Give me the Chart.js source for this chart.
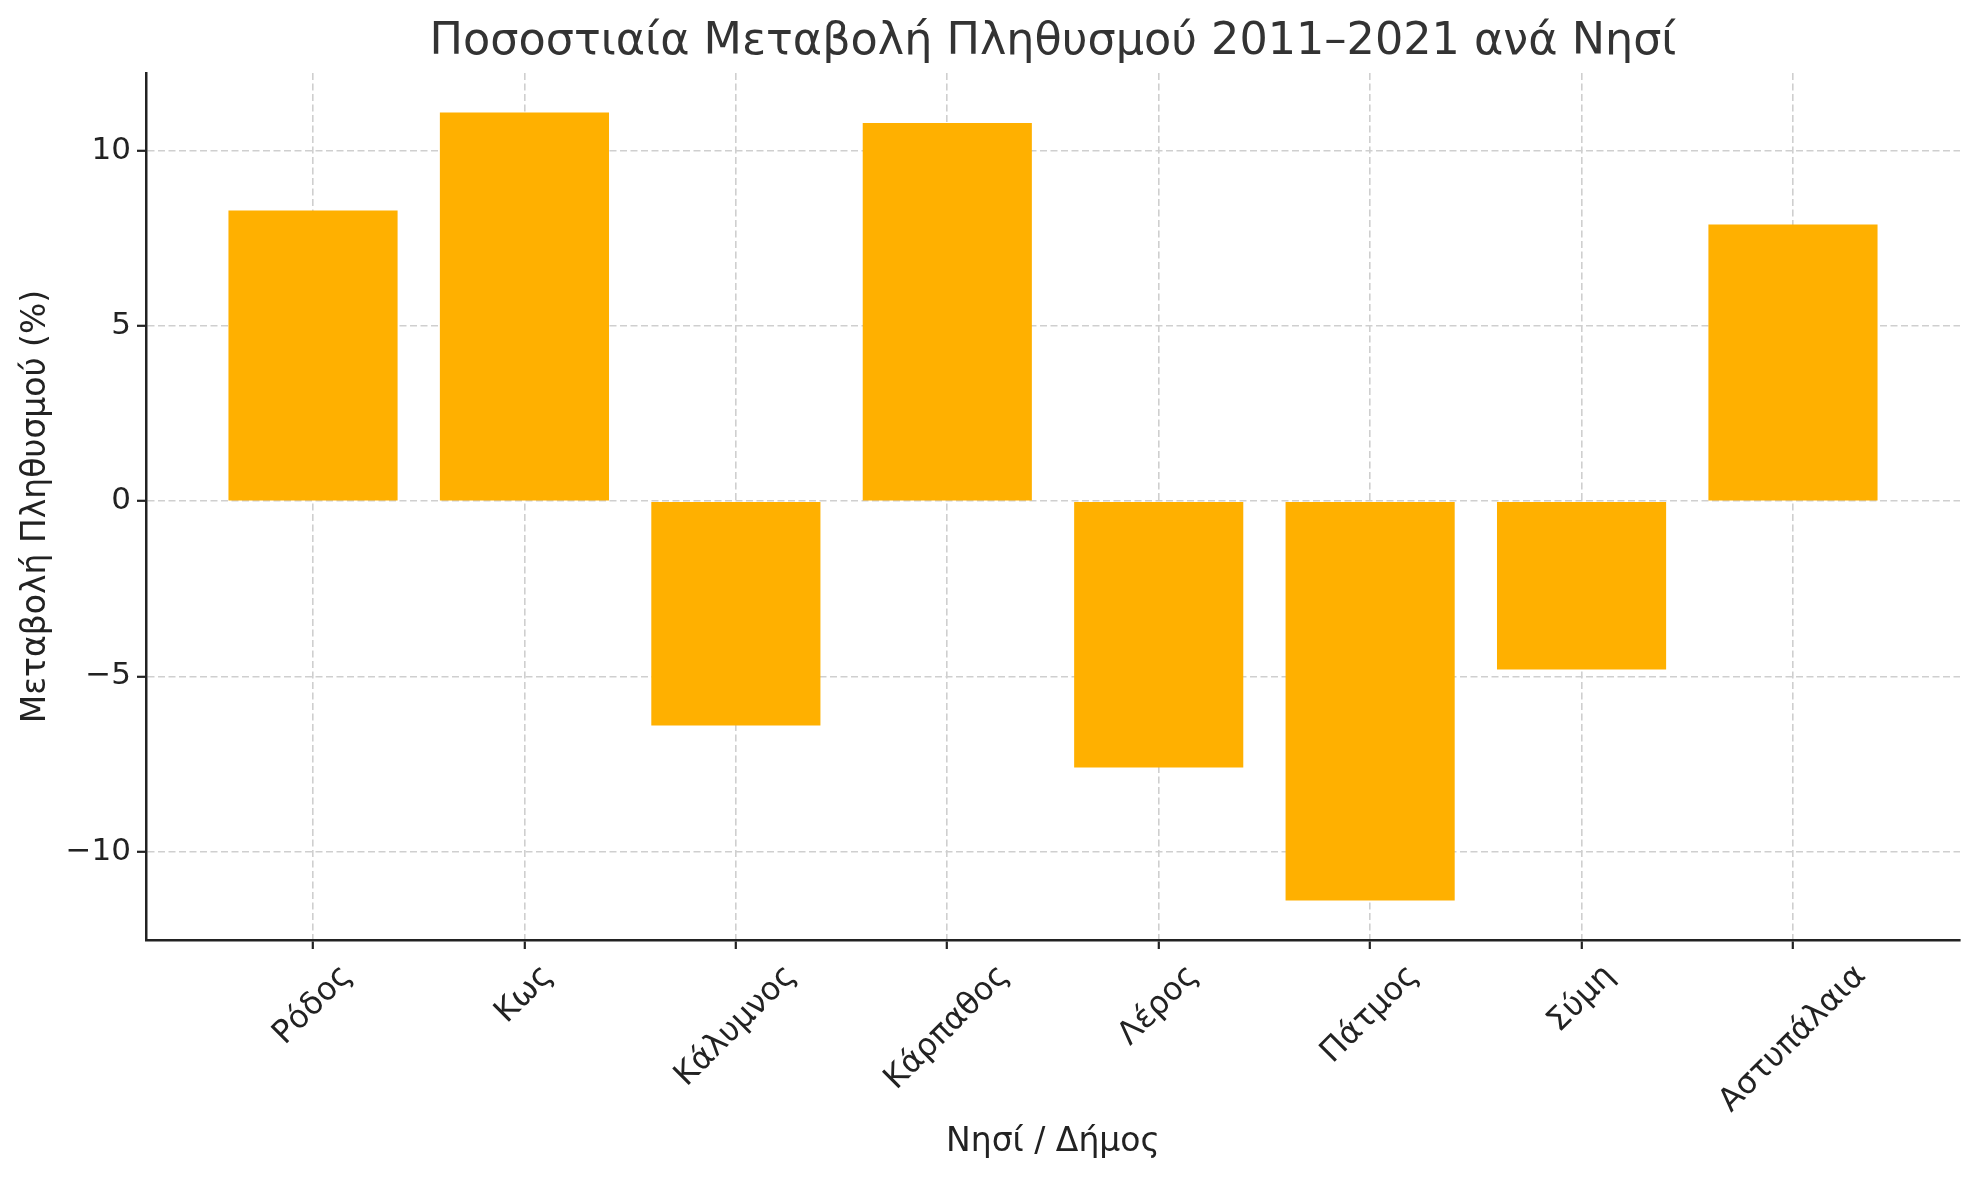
<!DOCTYPE html>
<html>
<head>
<meta charset="utf-8">
<script src="https://cdn.jsdelivr.net/npm/chart.js@4/dist/chart.umd.min.js"></script>
<style>
    body { margin: 0; background: #fff; }
    #wrap { width: 1979px; height: 1180px; }
</style>
</head>
<body>
<div id="wrap"><canvas id="popChart" width="1979" height="1180"></canvas></div>
<script>
const islands = ["Ρόδος", "Κως", "Κάλυμνος", "Κάρπαθος", "Λέρος", "Πάτμος", "Σύμη", "Αστυπάλαια"];
const changePct = [8.3, 11.1, -6.4, 10.8, -7.6, -11.4, -4.8, 7.9];
const yTicks = [-10, -5, 0, 5, 10];

const chartTitle = "Ποσοστιαία Μεταβολή Πληθυσμού 2011–2021 ανά Νησί";
const xTitle = "Νησί / Δήμος";
const yTitle = "Μεταβολή Πληθυσμού (%)";

const FONT = "'DejaVu Sans', sans-serif";

// title, axis titles and rotated category labels (centred under each tick)
const labelPlugin = {
    id: "labelPlugin",
    afterDraw(chart) {
        const ctx = chart.ctx;
        const xs = chart.scales.x;
        const area = chart.chartArea;
        const midX = (area.left + area.right) / 2;
        const s = Math.SQRT1_2;

        ctx.save();
        ctx.textAlign = "center";
        ctx.textBaseline = "middle";

        ctx.fillStyle = "#333";
        ctx.font = "44.5px " + FONT;
        ctx.fillText(chartTitle, midX, 42);

        ctx.fillStyle = "#222";
        ctx.font = "32px " + FONT;
        islands.forEach((name, i) => {
            const px = xs.getPixelForValue(i);
            const w = ctx.measureText(name).width;
            const h = 37;
            const boxH = (w + h) * s;
            const cy = area.bottom + 18 + boxH / 2;
            ctx.save();
            ctx.translate(px, cy);
            ctx.rotate(-Math.PI / 4);
            ctx.fillText(name, 0, 0);
            ctx.restore();
        });

        ctx.font = "33px " + FONT;
        ctx.fillText(xTitle, midX, 1142);

        ctx.save();
        ctx.translate(36, (area.top + area.bottom) / 2);
        ctx.rotate(-Math.PI / 2);
        ctx.fillText(yTitle, 0, 0);
        ctx.restore();
        ctx.restore();
    }
};

const gridOpts = {
    color: "#cfcfcf",
    lineWidth: 1.6,
    offset: false,
    drawTicks: true,
    tickLength: 9,
    tickColor: "#222",
    tickWidth: 2.2
};

const ctx = document.getElementById("popChart").getContext("2d");
const chart = new Chart(ctx, {
    type: "bar",
    data: {
        datasets: [{
            data: changePct.map((v, i) => ({ x: i, y: v })),
            backgroundColor: "#FFB000",
            borderWidth: 0,
            barPercentage: 0.8,
            categoryPercentage: 1.0
        }]
    },
    options: {
        responsive: false,
        animation: false,
        devicePixelRatio: 1,
        layout: { padding: { left: 0, right: 19, top: 73, bottom: 0 } },
        plugins: {
            legend: { display: false },
            tooltip: { enabled: false },
            title: { display: false }
        },
        scales: {
            x: {
                type: "linear",
                min: -0.79,
                max: 7.79,
                offset: false,
                z: 1,
                afterBuildTicks: (scale) => {
                    scale.ticks = islands.map((_, i) => ({ value: i }));
                },
                afterFit: (scale) => { scale.height = 240; },
                ticks: { display: false },
                grid: gridOpts,
                border: { display: true, color: "#222", width: 2.5, dash: [7, 3.5] }
            },
            y: {
                min: -12.525,
                max: 12.225,
                z: 1,
                afterBuildTicks: (scale) => {
                    scale.ticks = yTicks.map(v => ({ value: v }));
                },
                afterFit: (scale) => { scale.width = 146; },
                ticks: {
                    color: "#222",
                    padding: 6,
                    font: { family: FONT, size: 31 },
                    callback: (v) => v < 0 ? "\u2212" + Math.abs(v) : String(v)
                },
                grid: gridOpts,
                border: { display: true, color: "#222", width: 2.5, dash: [7, 3.5] }
            }
        }
    },
    plugins: [labelPlugin]
});
</script>
</body>
</html>
